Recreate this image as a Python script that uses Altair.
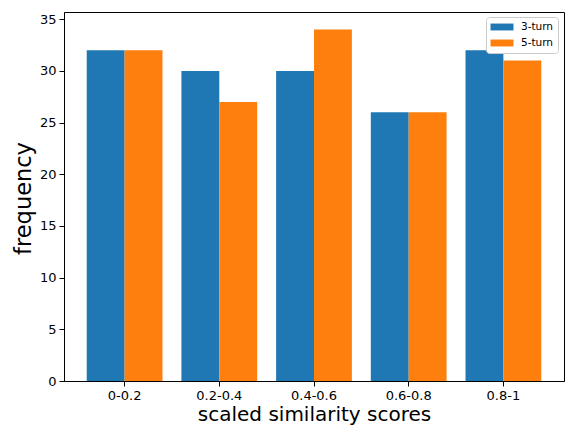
import altair as alt
import pandas as pd

bins = ["0-0.2", "0.2-0.4", "0.4-0.6", "0.6-0.8", "0.8-1"]
series = ["3-turn", "5-turn"]
turn3 = [32, 30, 30, 26, 32]
turn5 = [32, 27, 34, 26, 31]
colors = ["#1f77b4", "#ff7f0e"]

rows = []
for b, a, c in zip(bins, turn3, turn5):
    rows.append({"bin": b, "series": series[0], "freq": a})
    rows.append({"bin": b, "series": series[1], "freq": c})
df = pd.DataFrame(rows)

FONT = "DejaVu Sans"

chart = alt.Chart(df).mark_bar().encode(
    x=alt.X("bin:N", sort=bins,
            scale=alt.Scale(paddingInner=0.2, paddingOuter=0.24),
            axis=alt.Axis(title="scaled similarity scores", labelAngle=0,
                          titlePadding=2, titleFontSize=20)),
    xOffset=alt.XOffset("series:N", sort=series,
                        scale=alt.Scale(paddingInner=0, paddingOuter=0)),
    y=alt.Y("freq:Q", scale=alt.Scale(domain=[0, 35.7], nice=False),
            axis=alt.Axis(title="frequency", values=[0, 5, 10, 15, 20, 25, 30, 35],
                          titleX=-41, titleY=186, titleBaseline="middle",
                          titleAngle=-90, titleFontSize=22.5)),
    color=alt.Color("series:N", sort=series,
                    scale=alt.Scale(domain=series, range=colors),
                    legend=alt.Legend(title=None, orient="none", legendX=422, legendY=5,
                                      fillColor="white", strokeColor="#cccccc",
                                      cornerRadius=3, padding=4,
                                      symbolType="M-2,-0.6L2,-0.6L2,0.6L-2,0.6Z",
                                      symbolSize=132, symbolStrokeWidth=0,
                                      symbolOffset=6,
                                      labelFont=FONT, labelFontSize=10.5,
                                      labelColor="black", rowPadding=4,
                                      labelOffset=13))
).properties(
    width=500, height=369,
    autosize=alt.AutoSizeParams(type="none"),
    padding={"left": 56, "top": 4, "right": 1, "bottom": 48}
).configure_view(
    stroke="black", strokeWidth=1
).configure_axis(
    grid=False, domainColor="black", tickColor="black", tickSize=5,
    labelColor="black", titleColor="black", labelFont=FONT, titleFont=FONT,
    labelFontSize=13, titleFontWeight="normal",
    labelPadding=3
)

chart.save("out.html", embed_options={"renderer": "svg", "actions": False})
